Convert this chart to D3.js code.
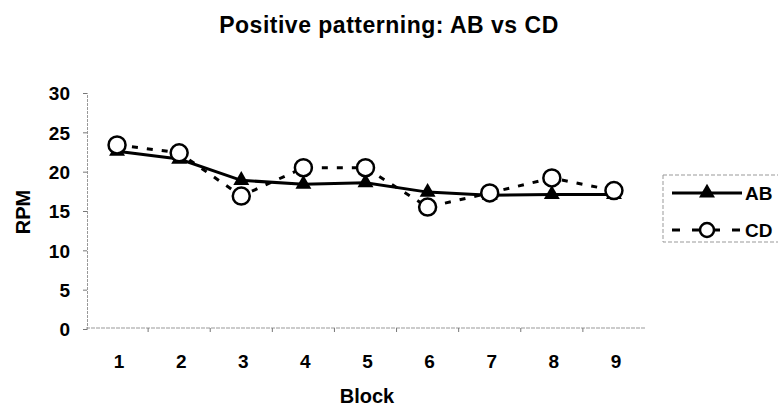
<!DOCTYPE html>
<html><head><meta charset="utf-8">
<script src="https://cdn.jsdelivr.net/npm/d3@7"></script>
<style>body{margin:0;background:#fff;} svg{display:block;} text{font-family:"Liberation Sans",Arial,sans-serif;font-weight:bold;fill:#000;}</style>
</head><body>
<script>
const blocks = ["1","2","3","4","5","6","7","8","9"];
const abValues = [22.6, 21.6, 18.9, 18.4, 18.6, 17.4, 17.0, 17.1, 17.1];
const cdValues = [23.4, 22.4, 16.9, 20.5, 20.5, 15.5, 17.3, 19.2, 17.6];
const yTicks = [0, 5, 10, 15, 20, 25, 30];
const seriesNames = ["AB", "CD"];

const W = 778, H = 410;
const svg = d3.select("body").append("svg").attr("width", W).attr("height", H);

const x = d3.scaleBand().domain(blocks).range([86, 645]);
const y = d3.scaleLinear().domain([0, 30]).range([329, 93]);

// title
svg.append("text").attr("x", 389).attr("y", 33).attr("text-anchor", "middle")
  .style("font-size", "23px").style("letter-spacing", "0.5px").text("Positive patterning: AB vs CD");

// y axis
const yAxis = d3.axisLeft(y).tickValues(yTicks).tickSize(4).tickPadding(13);
const gy = svg.append("g").attr("transform", "translate(87,0)").call(yAxis);
gy.select(".domain").attr("stroke", "#999").attr("stroke-dasharray", "3,1");
gy.selectAll(".tick line").attr("stroke", "#777");
gy.selectAll(".tick text").style("font-size", "19px").attr("dy", "0.36em")
  .style("font-family", "'Liberation Sans',Arial,sans-serif").style("font-weight", "bold");

// x axis
const gx = svg.append("g").attr("transform", "translate(0,328)");
gx.append("line").attr("x1", 86).attr("x2", 645).attr("y1", 0).attr("y2", 0)
  .attr("stroke", "#999").attr("stroke-dasharray", "4,1");
const bounds = blocks.slice(1).map(b => x(b));
gx.selectAll("line.tk").data(bounds).enter().append("line").attr("class", "tk")
  .attr("x1", d => d).attr("x2", d => d).attr("y1", 0).attr("y2", 4).attr("stroke", "#777");
gx.selectAll("text").data(blocks).enter().append("text")
  .attr("x", d => x(d) + x.bandwidth() / 2 + 2).attr("y", 40).attr("text-anchor", "middle")
  .style("font-size", "19px").text(d => d);

// axis titles
svg.append("text").attr("x", 367).attr("y", 403).attr("text-anchor", "middle")
  .style("font-size", "20px").text("Block");
svg.append("text").attr("transform", "translate(30,212) rotate(-90)").attr("text-anchor", "middle")
  .style("font-size", "20px").text("RPM");

const cx = d => x(d) + x.bandwidth() / 2;
const line = d3.line().x((d, i) => cx(blocks[i])).y(d => y(d));

svg.append("path").datum(cdValues).attr("d", line).attr("fill", "none")
  .attr("stroke", "#000").attr("stroke-width", 3).attr("stroke-dasharray", "6,9");
svg.append("path").datum(abValues).attr("d", line).attr("fill", "none")
  .attr("stroke", "#000").attr("stroke-width", 3);

const tri = d3.symbol().type(d3.symbolTriangle).size(110);
svg.selectAll("path.ab").data(abValues).enter().append("path").attr("class", "ab")
  .attr("d", tri).attr("transform", (d, i) => `translate(${cx(blocks[i])},${y(d)})`).attr("fill", "#000");
svg.selectAll("circle.cd").data(cdValues).enter().append("circle").attr("class", "cd")
  .attr("cx", (d, i) => cx(blocks[i])).attr("cy", d => y(d)).attr("r", 8.5)
  .attr("fill", "#fff").attr("stroke", "#000").attr("stroke-width", 2.5);

// legend
const lg = svg.append("g");
lg.append("rect").attr("x", 663).attr("y", 175).attr("width", 130).attr("height", 67)
  .attr("fill", "none").attr("stroke", "#999").attr("stroke-dasharray", "4,2");
const rows = [193, 230];
lg.append("line").attr("x1", 672).attr("x2", 742).attr("y1", rows[0]).attr("y2", rows[0])
  .attr("stroke", "#000").attr("stroke-width", 3);
lg.append("path").attr("d", tri).attr("transform", `translate(707,${rows[0]})`).attr("fill", "#000");
lg.append("line").attr("x1", 672).attr("x2", 742).attr("y1", rows[1]).attr("y2", rows[1])
  .attr("stroke", "#000").attr("stroke-width", 3).attr("stroke-dasharray", "8,12");
lg.append("circle").attr("cx", 707).attr("cy", rows[1]).attr("r", 7)
  .attr("fill", "#fff").attr("stroke", "#000").attr("stroke-width", 2.5);
lg.selectAll("text").data(seriesNames).enter().append("text")
  .attr("x", 745).attr("y", (d, i) => rows[i] + 7).style("font-size", "19px").text(d => d);
</script>
</body></html>
